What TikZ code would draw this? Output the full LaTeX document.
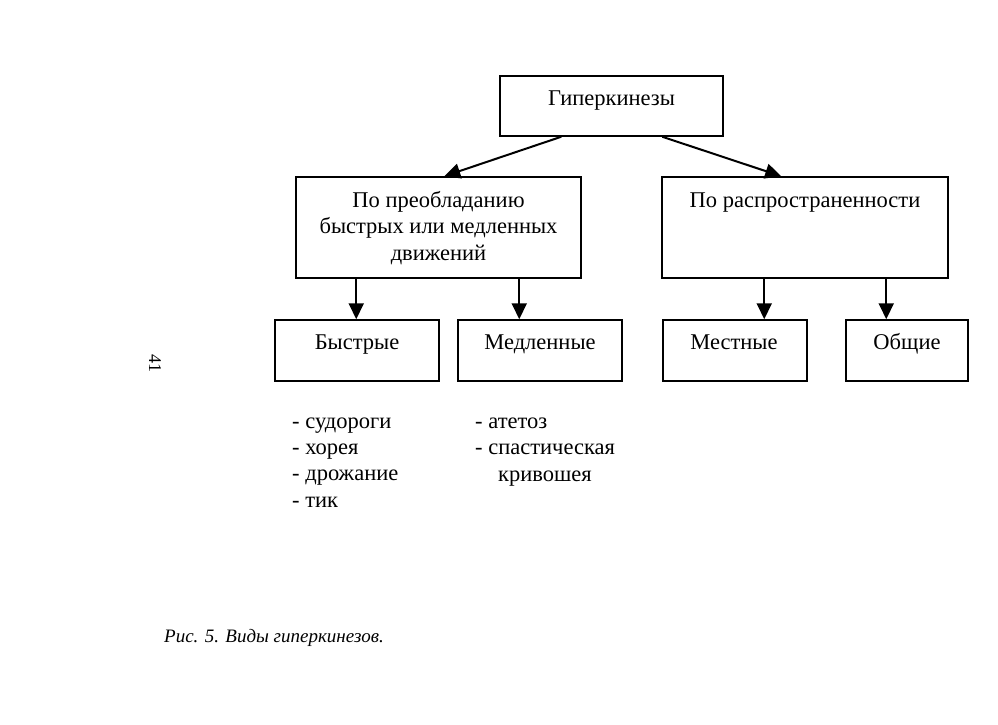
\documentclass[tikz,border=0pt]{standalone}
\usepackage{fontspec}
\setmainfont{Liberation Serif}
\usetikzlibrary{arrows.meta,calc}
\begin{document}
\begin{tikzpicture}[x=1pt,y=-1pt,
  box/.style={draw,line width=1.5pt,inner sep=0pt,minimum width=#1},
  lbl/.style={inner sep=0pt,anchor=base,font=\fontsize{22.5}{26.5}\selectfont},
  lst/.style={inner sep=0pt,anchor=base west,align=left,font=\fontsize{22.5}{26.3}\selectfont},
  arr/.style={line width=2pt,-{Triangle[length=16pt,width=15pt]}}]
\useasboundingbox (0,0) rectangle (998,724);
% boxes
\node[box=223,minimum height=60] (g) at (611.5,106) {};
\node[box=285,minimum height=101] (p) at (438.5,227.5) {};
\node[box=286,minimum height=101] (r) at (805,227.5) {};
\node[box=164,minimum height=61] (b) at (357,350.5) {};
\node[box=164,minimum height=61] (m) at (540,350.5) {};
\node[box=144,minimum height=61] (l) at (735,350.5) {};
\node[box=122,minimum height=61] (o) at (907,350.5) {};
% texts
\node[lbl] (gt) at (611.5,105) {Гиперкинезы};
\node[lbl,align=center] (pt) at (438.5,260) {По преобладанию\\быстрых или медленных\\движений};
\node[lbl] (rt) at (805,207) {По распространенности};
\node[lbl] (bt) at (357,349) {Быстрые};
\node[lbl] (mt) at (540,349) {Медленные};
\node[lbl] (lt) at (734,349) {Местные};
\node[lbl] (ot) at (907,349) {Общие};
\node[lst] (fast) at (292,507) {- судороги\\- хорея\\- дрожание\\- тик};
\node[lst] (slow) at (475,481) {- атетоз\\- спастическая\\\hspace*{23pt}кривошея};
% connectors
\draw[arr] ($(g.south west)+(62,0)$) -- ($(p.north west)+(149,0)$);
\draw[arr] ($(g.south west)+(163,0)$) -- ($(r.north west)+(120,0)$);
\coordinate (ba) at ($(b.north west)+(82,0)$);
\coordinate (ma) at ($(m.north west)+(62,0)$);
\coordinate (la) at ($(l.north west)+(102,0)$);
\coordinate (oa) at ($(o.north west)+(41,0)$);
\draw[arr] (ba |- p.south) -- (ba);
\draw[arr] (ma |- p.south) -- (ma);
\draw[arr] (la |- r.south) -- (la);
\draw[arr] (oa |- r.south) -- (oa);
% page number and caption
\node[inner sep=0pt,rotate=-90,font=\fontsize{18}{20}\selectfont] (pg) at (155,363) {41};
\node[inner sep=0pt,anchor=base west,font=\itshape\fontsize{19}{22}\selectfont] (cap) at (164,642) {Рис. 5. Виды гиперкинезов.};
\end{tikzpicture}
\end{document}
